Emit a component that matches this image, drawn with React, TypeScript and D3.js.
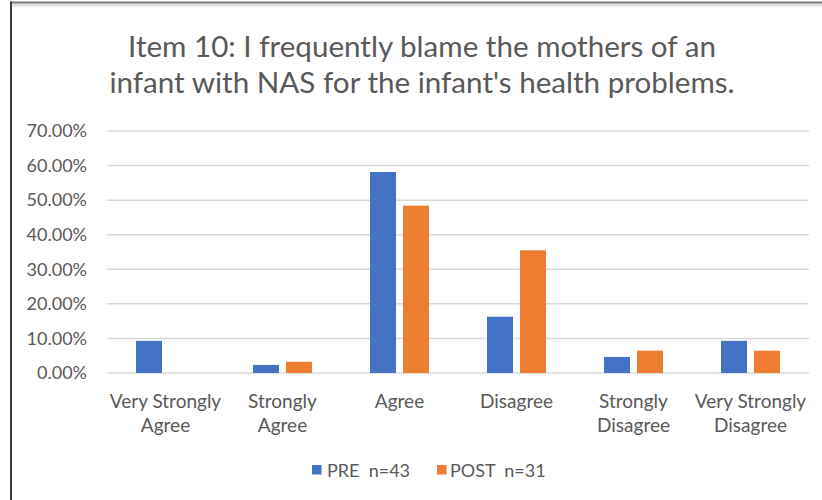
import React from "react";
import * as d3 from "d3";

const categories = [
  "Very Strongly Agree",
  "Strongly Agree",
  "Agree",
  "Disagree",
  "Strongly Disagree",
  "Very Strongly Disagree",
];
const categoryLines = [
  ["Very Strongly", "Agree"],
  ["Strongly", "Agree"],
  ["Agree"],
  ["Disagree"],
  ["Strongly", "Disagree"],
  ["Very Strongly", "Disagree"],
];
const seriesNames = ["PRE  n=43", "POST  n=31"];
const preValues = [9.3, 2.33, 58.14, 16.28, 4.65, 9.3];
const postValues = [0, 3.23, 48.39, 35.48, 6.45, 6.45];
const yTicks = [0, 10, 20, 30, 40, 50, 60, 70];
const titleLines = [
  "Item 10: I frequently blame the mothers of an",
  "infant with NAS for the infant's health problems.",
];

const W = 822;
const H = 500;
const FONT = "Lato, 'Open Sans', sans-serif";
const TEXT = "#595959";
const COLORS = ["#4472C4", "#ED7D31"];

export default function App() {
  const plotLeft = 107;
  const plotRight = 809;
  const plotTop = 131;
  const plotBottom = 373;

  const x = d3
    .scaleBand<string>()
    .domain(categories)
    .range([plotLeft, plotRight])
    .paddingInner(0)
    .paddingOuter(0);
  const inner = d3
    .scaleBand<string>()
    .domain(["PRE", "POST"])
    .range([29, 88])
    .paddingInner(0.2121)
    .paddingOuter(0);
  const y = d3.scaleLinear().domain([0, 70]).range([plotBottom, plotTop]);

  const series = [
    { key: "PRE", values: preValues, color: COLORS[0] },
    { key: "POST", values: postValues, color: COLORS[1] },
  ];

  return (
    <div style={{ position: "absolute", left: 0, top: 0 }}>
      <svg width={W} height={H} style={{ display: "block", background: "#fff" }}>
        {/* frame */}
        <rect x={10} y={3.5} width={W - 10} height={3} fill="#e2e2e2" />
        <line x1={10} x2={W} y1={2.5} y2={2.5} stroke="#7a7a7a" strokeWidth={2} />
        <line x1={11} x2={11} y1={1.5} y2={H} stroke="#3c3c3c" strokeWidth={2} />

        {/* title */}
        <text
          x={422}
          textAnchor="middle"
          fill={TEXT}
          fontFamily={FONT}
          fontSize={29.6}
        >
          <tspan x={422} y={57}>{titleLines[0]}</tspan>
          <tspan x={422} y={93}>{titleLines[1]}</tspan>
        </text>

        {/* gridlines and y ticks */}
        {yTicks.map((t) => (
          <g key={t}>
            <line
              x1={plotLeft}
              x2={plotRight}
              y1={y(t)}
              y2={y(t)}
              stroke="#d9d9d9"
              strokeWidth={1.5}
            />
            <text
              x={87}
              y={y(t) + 6.3}
              textAnchor="end"
              fill={TEXT}
              fontFamily={FONT}
              fontSize={18}
            >
              {t.toFixed(2) + "%"}
            </text>
          </g>
        ))}

        {/* bars */}
        {series.map((s) => (
          <g key={s.key}>
            {categories.map((c, i) => (
              <rect
                key={c}
                x={(x(c) as number) + (inner(s.key) as number)}
                y={y(s.values[i])}
                width={inner.bandwidth()}
                height={plotBottom - y(s.values[i])}
                fill={s.color}
              />
            ))}
          </g>
        ))}

        {/* x labels */}
        {categories.map((c, i) => (
          <text
            key={c}
            textAnchor="middle"
            fill={TEXT}
            fontFamily={FONT}
            fontSize={19}
          >
            {categoryLines[i].map((ln, j) => (
              <tspan key={j} x={(x(c) as number) + x.bandwidth() / 2} y={407.5 + j * 24}>
                {ln}
              </tspan>
            ))}
          </text>
        ))}

        {/* legend */}
        <rect x={312} y={465} width={9.5} height={9.5} fill={COLORS[0]} />
        <text x={327} y={477} fill={TEXT} fontFamily={FONT} fontSize={18} style={{ whiteSpace: "pre" }}>
          {seriesNames[0]}
        </text>
        <rect x={437} y={465} width={9.5} height={9.5} fill={COLORS[1]} />
        <text x={450} y={477} fill={TEXT} fontFamily={FONT} fontSize={18} style={{ whiteSpace: "pre" }}>
          {seriesNames[1]}
        </text>
      </svg>
    </div>
  );
}
